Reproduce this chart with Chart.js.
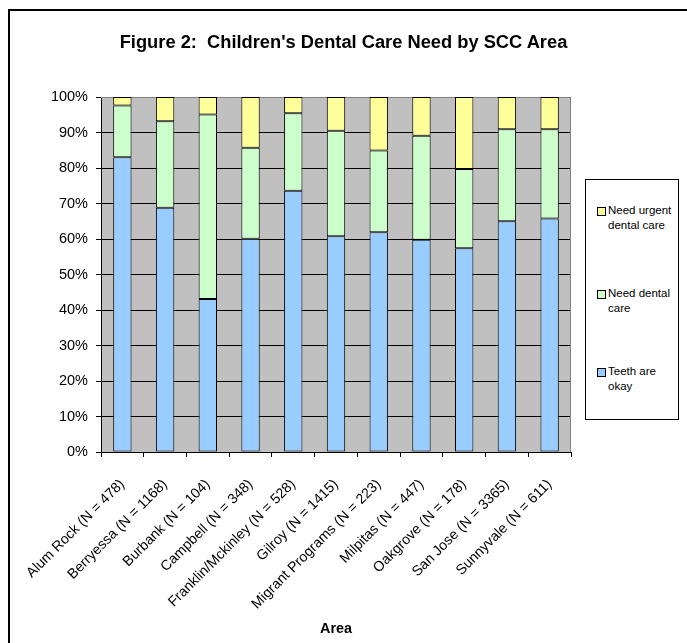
<!DOCTYPE html>
<html lang="en">
<head>
<meta charset="UTF-8">
<title>Children's Dental Care Need by SCC Area</title>
<script src="https://cdn.jsdelivr.net/npm/chart.js"></script>
<style>
  html, body { margin: 0; padding: 0; background: #fff; overflow: hidden; }
  .wrap { position: relative; width: 687px; height: 643px; overflow: hidden; }
  .title {
    position: absolute; left: 0; top: 31px; width: 687px; text-align: center;
    font-family: "Liberation Sans", Arial, sans-serif; font-weight: bold; font-size: 18.3px;
    line-height: 22px; color: #000; white-space: pre;
  }
  .legend {
    position: absolute; left: 585px; top: 179px; width: 92px; height: 239px;
    border: 1px solid #000; background: #fff;
    font-family: "Liberation Sans", Arial, sans-serif; font-size: 11.5px; color: #000;
  }
  .legend-item { position: absolute; left: 11px; line-height: 15px; }
  .legend-item .sw {
    position: absolute; left: 0; top: 4px; width: 7px; height: 7px; border: 1px solid #000;
  }
  .legend-item .txt { margin-left: 11px; display: block; }
</style>
</head>
<body>
<div class="wrap">
  <canvas id="dentalChart" width="687" height="643"></canvas>
  <div class="title">Figure 2:  Children's Dental Care Need by SCC Area</div>
  <div class="legend" id="legend"></div>
</div>

<script>
  // categories
  const areas = [
    'Alum Rock (N = 478)', 'Berryessa (N = 1168)', 'Burbank (N = 104)', 'Campbell (N = 348)',
    'Franklin/Mckinley (N = 528)', 'Gilroy (N = 1415)', 'Migrant Programs (N = 223)',
    'Milpitas (N = 447)', 'Oakgrove (N = 178)', 'San Jose (N = 3365)', 'Sunnyvale (N = 611)'
  ];

  // percent of children in each area
  const teethOkay   = [83.0, 68.8, 43.1, 60.1, 73.6, 60.8, 61.9, 59.8, 57.4, 65.0, 65.8];
  const needCare    = [14.6, 24.4, 52.0, 25.6, 21.8, 29.7, 23.0, 29.3, 22.3, 25.9, 25.1];
  const needUrgent  = [ 2.4,  6.8,  4.9, 14.3,  4.6,  9.5, 15.1, 10.9, 20.3,  9.1,  9.1];

  const yTicks = [0, 10, 20, 30, 40, 50, 60, 70, 80, 90, 100];

  const FONT = '"Liberation Sans", Arial, sans-serif';

  const datasets = [
    { label: 'Teeth are okay', legendLines: ['Teeth are', 'okay'], data: teethOkay, backgroundColor: '#99ccff', legendTop: 184 },
    { label: 'Need dental care', legendLines: ['Need dental', 'care'], data: needCare, backgroundColor: '#ccffcc', legendTop: 106 },
    { label: 'Need urgent dental care', legendLines: ['Need urgent', 'dental care'], data: needUrgent, backgroundColor: '#ffff99', legendTop: 23 }
  ];

  // gray plot background + border, and the outer frame (top and left edges only)
  const plotBg = {
    id: 'plotBg',
    beforeDraw(chart) {
      const { ctx, chartArea: a } = chart;
      ctx.save();
      ctx.fillStyle = '#c0c0c0';
      ctx.fillRect(a.left, a.top, a.right - a.left, a.bottom - a.top);
      ctx.fillStyle = '#000';
      ctx.fillRect(8, 9, chart.width - 8, 2);
      ctx.fillRect(8, 9, 2, chart.height - 9);
      ctx.restore();
    },
    beforeDatasetsDraw(chart) {
      const { ctx, chartArea: a } = chart;
      ctx.save();
      ctx.strokeStyle = '#808080';
      ctx.lineWidth = 1;
      ctx.beginPath();
      ctx.moveTo(a.left, a.top + 0.5);
      ctx.lineTo(a.right - 0.5, a.top + 0.5);
      ctx.lineTo(a.right - 0.5, a.bottom);
      ctx.stroke();
      ctx.restore();
    }
  };

  const ctx = document.getElementById('dentalChart').getContext('2d');
  const chart = new Chart(ctx, {
    type: 'bar',
    data: {
      labels: areas,
      datasets: datasets.map(d => ({
        label: d.label,
        data: d.data,
        backgroundColor: d.backgroundColor,
        borderColor: '#000',
        borderWidth: 1,
        borderSkipped: false,
        barPercentage: 0.43,
        categoryPercentage: 1
      }))
    },
    options: {
      responsive: false,
      animation: false,
      layout: { padding: { left: 0, right: 116, top: 97, bottom: 0 } },
      plugins: {
        legend: { display: false },
        tooltip: { enabled: false },
        title: { display: false }
      },
      scales: {
        x: {
          stacked: true,
          grid: { display: true, drawOnChartArea: false, drawTicks: true, tickLength: 5, color: '#000' },
          border: { display: true, color: '#000' },
          ticks: {
            color: '#000',
            font: { family: FONT, size: 14.2 },
            minRotation: 45, maxRotation: 45,
            autoSkip: false,
            padding: 19
          },
          title: {
            display: true, text: 'Area', color: '#000',
            font: { family: FONT, size: 14.4, weight: 'bold' },
            padding: { top: 4, bottom: 5 }
          },
          afterFit(scale) { scale.height = 191; }
        },
        y: {
          stacked: true,
          min: 0, max: 100,
          afterBuildTicks(scale) { scale.ticks = yTicks.map(v => ({ value: v })); },
          grid: { color: '#000', drawTicks: true, tickLength: 5 },
          border: { display: true, color: '#000' },
          ticks: {
            color: '#000',
            font: { family: FONT, size: 14.5 },
            padding: 8,
            callback: v => v + '%'
          },
          afterFit(scale) { scale.width = 101; }
        }
      }
    },
    plugins: [plotBg]
  });

  // legend box, built from the datasets (top item = last dataset)
  const legendEl = document.getElementById('legend');
  datasets.slice().reverse().forEach(d => {
    const item = document.createElement('div');
    item.className = 'legend-item';
    item.style.top = d.legendTop + 'px';
    const sw = document.createElement('span');
    sw.className = 'sw';
    sw.style.background = d.backgroundColor;
    const txt = document.createElement('span');
    txt.className = 'txt';
    txt.innerHTML = d.legendLines.join('<br>');
    item.appendChild(sw);
    item.appendChild(txt);
    legendEl.appendChild(item);
  });
</script>
</body>
</html>
